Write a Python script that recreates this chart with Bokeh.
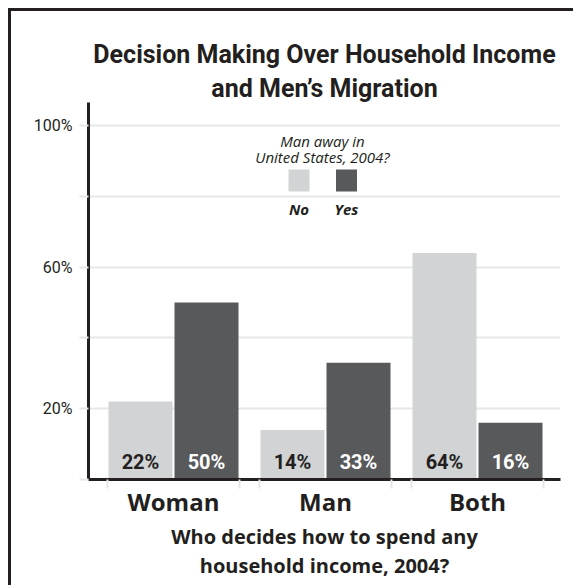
from bokeh.plotting import figure
from bokeh.models import Range1d, FixedTicker, Label, ColumnDataSource, Title
from bokeh.core.properties import value
from bokeh.embed import file_html
from bokeh.resources import INLINE

# ---- data ----
categories = ["Woman", "Man", "Both"]
no_values = [22, 14, 64]
yes_values = [50, 33, 16]
y_ticks = [0, 20, 40, 60, 80, 100]
y_tick_labels = ["", "20%", "", "60%", "", "100%"]
title_lines = ["Decision Making Over Household Income", "and Men\u2019s Migration"]
legend_title = ["Man away in", "United States, 2004?"]
legend_labels = ["No", "Yes"]
xaxis_title = ["Who decides how to spend any", "household income, 2004?"]

# ---- style ----
LIGHT = "#d1d3d4"
DARK = "#58595b"
INK = "#231f20"
GRID = "#e6e7e8"
COND = "Roboto"
WIDE = "Open Sans"

MARGIN = 8
BORDER = 3
W, H = 576 - MARGIN - BORDER, 588 - MARGIN - BORDER
# pixel geometry (page px)
FRAME_L, FRAME_R, FRAME_T, FRAME_B = 88, 560, 102, 479
X0_PAGE, PX_PER_X = 173, 152.0
Y0_PAGE, PX_PER_Y = 479, 3.54
OFF = MARGIN + BORDER


def dx(px):
    return (px - X0_PAGE) / PX_PER_X


def dy(py):
    return (Y0_PAGE - py) / PX_PER_Y


p = figure(width=W, height=H, output_backend="svg", toolbar_location=None,
           x_range=Range1d(dx(FRAME_L), dx(FRAME_R)),
           y_range=Range1d(0, dy(FRAME_T)),
           min_border_left=FRAME_L - OFF, min_border_right=W - (FRAME_R - OFF),
           min_border_top=FRAME_T - OFF, min_border_bottom=H - (FRAME_B - OFF),
           outline_line_color=None, background_fill_color="white",
           border_fill_color="white")
p.styles = {"border-top": f"{BORDER}px solid {INK}", "border-left": f"{BORDER}px solid {INK}",
            "margin-left": f"{MARGIN}px", "margin-top": f"{MARGIN}px"}

xs = list(range(len(categories)))
off = 33 / PX_PER_X
bw = 64 / PX_PER_X
src = ColumnDataSource(dict(
    x_no=[x - off for x in xs], x_yes=[x + off for x in xs],
    no=no_values, yes=yes_values,
    no_txt=[f"{v}%" for v in no_values], yes_txt=[f"{v}%" for v in yes_values],
))

p.vbar(x="x_no", top="no", width=bw, bottom=0, source=src, fill_color=LIGHT, line_color=None)
p.vbar(x="x_yes", top="yes", width=bw, bottom=0, source=src, fill_color=DARK, line_color=None)

lab_y = dy(461)
src.data["lab_y"] = [lab_y] * len(xs)
p.text(x="x_no", y="lab_y", text="no_txt", source=src, text_font=value(COND),
       text_font_style="bold", text_font_size="20px", text_color=INK,
       text_align="center", text_baseline="middle")
p.text(x="x_yes", y="lab_y", text="yes_txt", source=src, text_font=value(COND),
       text_font_style="bold", text_font_size="20px", text_color="white",
       text_align="center", text_baseline="middle")

# grid
p.xgrid.grid_line_color = None
p.ygrid.ticker = FixedTicker(ticks=y_ticks)
p.ygrid.grid_line_color = GRID
p.ygrid.grid_line_width = 2

# y axis
p.yaxis.ticker = FixedTicker(ticks=y_ticks)
p.yaxis.major_label_overrides = {t: l for t, l in zip(y_ticks, y_tick_labels)}
p.yaxis.axis_line_color = INK
p.yaxis.axis_line_width = 3
p.yaxis.major_tick_line_color = GRID
p.yaxis.major_tick_line_width = 2
p.yaxis.major_tick_out = 9
p.yaxis.major_tick_in = 0
p.yaxis.minor_tick_line_color = None
p.yaxis.major_label_standoff = 7
p.yaxis.major_label_text_font = COND
p.yaxis.major_label_text_font_size = "16px"
p.yaxis.major_label_text_color = INK

# x axis
edges = []
for x in xs:
    edges += [x - 66 / PX_PER_X, x + 66 / PX_PER_X]
p.xaxis.ticker = FixedTicker(ticks=xs, minor_ticks=edges)
p.xaxis.major_label_overrides = {x: c for x, c in zip(xs, categories)}
p.xaxis.axis_line_color = INK
p.xaxis.axis_line_width = 3
p.xaxis.major_tick_line_color = None
p.xaxis.major_tick_out = 0
p.xaxis.major_tick_in = 0
p.xaxis.minor_tick_line_color = GRID
p.xaxis.minor_tick_line_width = 2
p.xaxis.minor_tick_out = 9
p.xaxis.minor_tick_in = 0
p.xaxis.major_label_standoff = -4
p.xaxis.major_label_text_font = WIDE
p.xaxis.major_label_text_font_style = "bold"
p.xaxis.major_label_text_font_size = "24px"
p.xaxis.major_label_text_color = INK

# title (later-added titles sit further from the frame)
for line, so in zip(reversed(title_lines), [0, 5]):
    p.add_layout(Title(text=line, align="center", text_font=COND, text_font_style="bold",
                       text_font_size="25px", text_color=INK, standoff=so, offset=-3,
                       text_line_height=1.1), "above")

# x axis title (first added sits closest to the axis)
for line in xaxis_title:
    p.add_layout(Title(text=line, align="center", text_font=WIDE, text_font_style="bold",
                       text_font_size="20px", text_color=INK, standoff=0,
                       text_line_height=0.98), "below")

# legend
for line, py in zip(legend_title, [140, 156]):
    p.add_layout(Label(x=dx(322), y=dy(py), text=line, text_font=WIDE, text_font_style="italic",
                       text_font_size="15px", text_color=INK, text_align="center",
                       text_baseline="middle"))
leg_x = [dx(298.5), dx(346)]
leg = ColumnDataSource(dict(x=leg_x, y=[dy(180)] * 2, c=[LIGHT, DARK], t=legend_labels,
                            ty=[dy(208)] * 2))
p.rect(x="x", y="y", width=21 / PX_PER_X, height=22 / PX_PER_Y, fill_color="c",
       line_color=None, source=leg)
p.text(x="x", y="ty", text="t", source=leg, text_font=value(WIDE), text_font_style="bold italic",
       text_font_size="15px", text_color=INK, text_align="center", text_baseline="middle")

open("out.html", "w").write(file_html(p, INLINE))
